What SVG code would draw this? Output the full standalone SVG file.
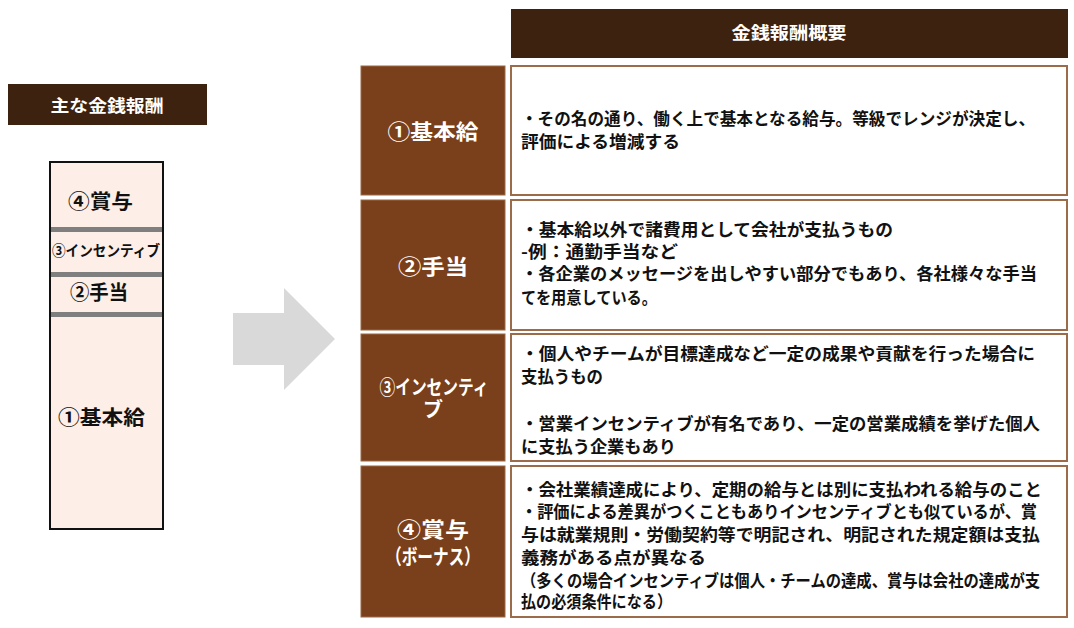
<svg xmlns="http://www.w3.org/2000/svg" width="1074" height="628" viewBox="0 0 1074 628">
<style>
.hdr{fill:#3e2210}
.lab{fill:#7a3f1b;stroke:#9a6a48;stroke-width:1}
.cell{fill:#ffffff;stroke:#9c6c4a;stroke-width:2}
.wt{fill:#ffffff;font-family:"Noto Sans CJK JP","Noto Sans",sans-serif;font-weight:bold;text-anchor:middle}
.bt{fill:#111111;font-family:"Noto Sans CJK JP","Noto Sans",sans-serif;font-weight:bold;font-size:17px}
.lt{fill:#111111;font-family:"Noto Sans CJK JP","Noto Sans",sans-serif;font-weight:bold;text-anchor:middle}
.band{fill:#7f7f7f}
</style>
<rect width="1074" height="628" fill="#ffffff"/>

<g id="left-header">
<rect class="hdr" x="8" y="84" width="199" height="41"/>
<text class="wt" x="107" y="111.5" font-size="17" textLength="113" lengthAdjust="spacingAndGlyphs">主な金銭報酬</text>
</g>

<g id="left-column">
<rect x="50" y="162" width="113" height="367" fill="#fdeee7" stroke="#111111" stroke-width="2"/>
<rect class="band" x="51" y="227" width="111" height="5"/>
<rect class="band" x="51" y="272" width="111" height="5"/>
<rect class="band" x="51" y="312" width="111" height="5"/>
<text class="lt" x="100.5" y="208.5" font-size="20" textLength="65" lengthAdjust="spacingAndGlyphs">④賞与</text>
<text class="lt" x="106" y="255.5" font-size="15" textLength="108" lengthAdjust="spacingAndGlyphs">③インセンティブ</text>
<text class="lt" x="99" y="300" font-size="20" textLength="58" lengthAdjust="spacingAndGlyphs">②手当</text>
<text class="lt" x="101.5" y="425" font-size="20" textLength="87" lengthAdjust="spacingAndGlyphs">①基本給</text>
</g>

<g id="arrow">
<polygon points="233,313 284,313 284,288 335,339 284,390 284,365 233,365" fill="#d9d9d9"/>
</g>

<g id="right-header">
<rect class="hdr" x="511" y="9" width="557" height="49"/>
<text class="wt" x="789" y="39" font-size="17" textLength="115" lengthAdjust="spacingAndGlyphs">金銭報酬概要</text>
</g>

<g id="row1">
<rect class="lab" x="361" y="66" width="144" height="129"/>
<rect class="cell" x="511" y="66" width="556" height="129"/>
<text class="wt" x="433" y="138.5" font-size="21" textLength="91" lengthAdjust="spacingAndGlyphs">①基本給</text>
<text class="bt" x="521" y="125" textLength="514" lengthAdjust="spacingAndGlyphs">・その名の通り、働く上で基本となる給与。等級でレンジが決定し、</text>
<text class="bt" x="521" y="148" textLength="159" lengthAdjust="spacingAndGlyphs">評価による増減する</text>
</g>

<g id="row2">
<rect class="lab" x="361" y="200" width="144" height="130"/>
<rect class="cell" x="511" y="200" width="556" height="130"/>
<text class="wt" x="433" y="273.5" font-size="21" textLength="70" lengthAdjust="spacingAndGlyphs">②手当</text>
<text class="bt" x="521" y="236" textLength="372" lengthAdjust="spacingAndGlyphs">・基本給以外で諸費用として会社が支払うもの</text>
<text class="bt" x="521" y="258" textLength="157" lengthAdjust="spacingAndGlyphs">-例：通勤手当など</text>
<text class="bt" x="521" y="280" textLength="516" lengthAdjust="spacingAndGlyphs">・各企業のメッセージを出しやすい部分でもあり、各社様々な手当</text>
<text class="bt" x="521" y="304" textLength="136" lengthAdjust="spacingAndGlyphs">てを用意している。</text>
</g>

<g id="row3">
<rect class="lab" x="361" y="334" width="144" height="127"/>
<rect class="cell" x="511" y="334" width="556" height="127"/>
<text class="wt" x="434" y="395" font-size="20" textLength="109" lengthAdjust="spacingAndGlyphs">③インセンティ</text>
<text class="wt" x="433" y="417" font-size="20">ブ</text>
<text class="bt" x="521" y="360" textLength="514" lengthAdjust="spacingAndGlyphs">・個人やチームが目標達成など一定の成果や貢献を行った場合に</text>
<text class="bt" x="521" y="383" textLength="82" lengthAdjust="spacingAndGlyphs">支払うもの</text>
<text class="bt" x="521" y="430" textLength="519" lengthAdjust="spacingAndGlyphs">・営業インセンティブが有名であり、一定の営業成績を挙げた個人</text>
<text class="bt" x="521" y="453" textLength="155" lengthAdjust="spacingAndGlyphs">に支払う企業もあり</text>
</g>

<g id="row4">
<rect class="lab" x="361" y="466" width="144" height="151"/>
<rect class="cell" x="511" y="466" width="556" height="151"/>
<text class="wt" x="433" y="536.5" font-size="21" textLength="72" lengthAdjust="spacingAndGlyphs">④賞与</text>
<text class="wt" x="433" y="564" font-size="21" textLength="94" lengthAdjust="spacingAndGlyphs">（ボーナス）</text>
<text class="bt" x="521" y="496" textLength="521" lengthAdjust="spacingAndGlyphs">・会社業績達成により、定期の給与とは別に支払われる給与のこと</text>
<text class="bt" x="521" y="518" textLength="516" lengthAdjust="spacingAndGlyphs">・評価による差異がつくこともありインセンティブとも似ているが、賞</text>
<text class="bt" x="521" y="541" textLength="519" lengthAdjust="spacingAndGlyphs">与は就業規則・労働契約等で明記され、明記された規定額は支払</text>
<text class="bt" x="521" y="564" textLength="185" lengthAdjust="spacingAndGlyphs">義務がある点が異なる</text>
<text class="bt" x="521" y="587" textLength="519" lengthAdjust="spacingAndGlyphs">（多くの場合インセンティブは個人・チームの達成、賞与は会社の達成が支</text>
<text class="bt" x="521" y="608" textLength="151" lengthAdjust="spacingAndGlyphs">払の必須条件になる）</text>
</g>
</svg>
